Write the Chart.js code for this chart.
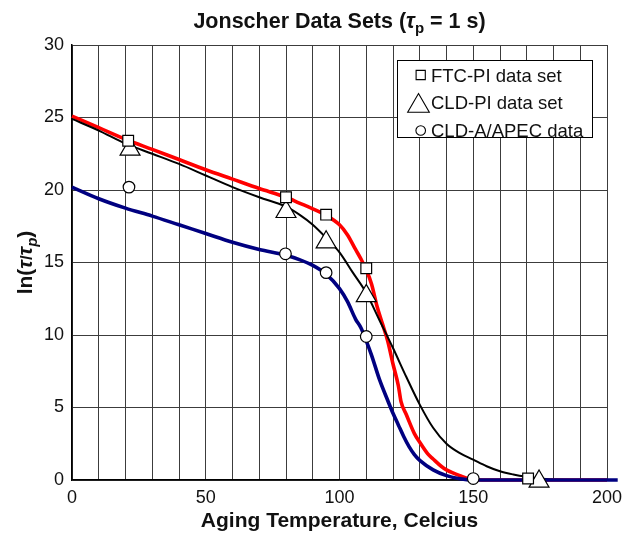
<!DOCTYPE html>
<html>
<head>
<meta charset="utf-8">
<script src="https://cdn.jsdelivr.net/npm/chart.js@4/dist/chart.umd.min.js"></script>
<style>
  body { margin: 0; background: #fff; }
  #wrap { width: 622px; height: 535px; }
</style>
</head>
<body>
<div id="wrap"><canvas id="grafica" width="622" height="535"></canvas></div>
<script>
// curves (temperature, ln(tau/tau_p))
const redT = [0, 10, 20, 30, 40, 50, 60, 70, 80, 85, 90, 95, 100, 103, 106, 108, 110, 112, 114, 116, 118, 120, 122, 123, 125, 128, 130, 133, 135, 138, 140, 145, 150, 155, 200];
const redV = [25.1, 24.3, 23.5, 22.8, 22.1, 21.4, 20.75, 20.1, 19.5, 19.1, 18.7, 18.25, 17.6, 16.9, 15.9, 15.25, 14.5, 13.5, 12.0, 10.8, 9.6, 8.0, 6.5, 5.4, 4.5, 3.2, 2.6, 1.8, 1.45, 0.95, 0.7, 0.3, 0.03, 0, 0];

const blackT = [0, 10, 20, 30, 40, 50, 60, 70, 80, 85, 90, 95, 100, 105, 110, 115, 120, 125, 130, 135, 140, 145, 150, 155, 160, 165, 170, 175, 180, 200];
const blackV = [24.9, 24.1, 23.2, 22.5, 21.8, 21.0, 20.2, 19.5, 18.85, 18.3, 17.6, 16.7, 15.7, 14.3, 12.9, 11.0, 9.1, 7.1, 5.2, 3.6, 2.5, 1.85, 1.4, 0.95, 0.6, 0.38, 0.22, 0.1, 0.02, 0];

const blueT = [0, 10, 20, 30, 40, 50, 60, 70, 80, 85, 90, 95, 100, 103, 106, 108, 110, 112, 115, 118, 120, 122, 124, 126, 128, 130, 135, 140, 145, 150, 204];
const blueV = [20.2, 19.4, 18.75, 18.2, 17.6, 17.0, 16.4, 15.9, 15.5, 15.2, 14.8, 14.2, 13.2, 12.3, 11.1, 10.5, 9.6, 8.6, 6.9, 5.5, 4.6, 3.8, 3.0, 2.3, 1.75, 1.35, 0.7, 0.3, 0.08, 0, 0];

// measured points
const sqT = [21, 80, 95, 110, 170.5];
const sqV = [23.4, 19.5, 18.3, 14.6, 0.1];
const triT = [21.7, 80, 95, 110, 174.6];
const triV = [22.8, 18.5, 16.4, 12.7, -0.1];
const circT = [21.3, 79.8, 95, 110, 150];
const circV = [20.2, 15.6, 14.3, 9.9, 0.1];

const legendLabels = ["FTC-PI data set", "CLD-PI data set", "CLD-A/APEC data"];

const FONT = "'Liberation Sans', Arial, sans-serif";

function puntos(xs, ys) {
    return xs.map((x, i) => ({ x: x, y: ys[i] }));
}

function curva(xs, ys, color, ancho, orden) {
    return {
        data: puntos(xs, ys),
        borderColor: color,
        borderWidth: ancho,
        pointRadius: 0,
        cubicInterpolationMode: 'monotone',
        fill: false,
        order: orden,
        clip: false
    };
}

function marcas(xs, ys, estilo, radio) {
    return {
        data: puntos(xs, ys),
        showLine: false,
        pointStyle: estilo,
        pointRadius: radio,
        pointBackgroundColor: '#fff',
        pointBorderColor: '#000',
        pointBorderWidth: 1.2,
        order: 0,
        clip: false
    };
}

// draws runs of text, each with its own font and vertical shift
function textoPartes(ctx, partes, x, y) {
    let ancho = 0;
    for (const p of partes) {
        ctx.font = p.font;
        ancho += ctx.measureText(p.t).width;
    }
    let cx = x - ancho / 2;
    for (const p of partes) {
        ctx.font = p.font;
        ctx.fillText(p.t, cx, y + (p.dy || 0));
        cx += ctx.measureText(p.t).width;
    }
}

const textos = {
    id: 'textos',
    afterDraw(chart) {
        const ctx = chart.ctx;
        const area = chart.chartArea;
        const cx = (area.left + area.right) / 2;
        ctx.save();
        ctx.fillStyle = '#111';
        ctx.textBaseline = 'alphabetic';
        ctx.textAlign = 'left';
        // title
        textoPartes(ctx, [
            { t: 'Jonscher Data Sets (', font: 'bold 21.5px ' + FONT },
            { t: 'τ', font: 'bold italic 21.5px ' + FONT },
            { t: 'p', font: 'bold 15px ' + FONT, dy: 5 },
            { t: ' = 1 s)', font: 'bold 21.5px ' + FONT }
        ], cx, 28);
        // x axis title
        textoPartes(ctx, [
            { t: 'Aging Temperature, Celcius', font: 'bold 21px ' + FONT }
        ], cx, 527);
        // y axis title
        ctx.translate(32, (area.top + area.bottom) / 2);
        ctx.rotate(-Math.PI / 2);
        textoPartes(ctx, [
            { t: 'ln(', font: 'bold 21px ' + FONT },
            { t: 'τ', font: 'bold italic 21px ' + FONT },
            { t: '/', font: 'bold 17px ' + FONT },
            { t: 'τ', font: 'bold italic 21px ' + FONT },
            { t: 'p', font: 'bold italic 15px ' + FONT, dy: 5 },
            { t: ')', font: 'bold 21px ' + FONT }
        ], 0, 0);
        ctx.restore();

        // legend
        ctx.save();
        ctx.fillStyle = '#fff';
        ctx.fillRect(397, 60, 195, 77);
        ctx.strokeStyle = '#000';
        ctx.lineWidth = 1;
        ctx.strokeRect(397.5, 60.5, 195, 77);
        const estilos = [['rect', 6.5, 420.7, 75], ['triangle', 12.5, 418.5, 106], ['circle', 4.8, 420.7, 130.5]];
        ctx.lineWidth = 1.1;
        for (const [estilo, r, x, y] of estilos) {
            ctx.fillStyle = '#fff';
            ctx.strokeStyle = '#000';
            Chart.helpers.drawPoint(ctx, { pointStyle: estilo, radius: r, rotation: 0, borderWidth: 1.1 }, x, y);
        }
        ctx.fillStyle = '#111';
        ctx.font = '18.5px ' + FONT;
        ctx.textAlign = 'left';
        legendLabels.forEach((lab, i) => {
            ctx.fillText(lab, 431, 81.5 + i * 27.7);
        });
        ctx.restore();
    }
};

const data = {
    datasets: [
        curva(redT, redV, '#ff0000', 3.6, 3),
        curva(blackT, blackV, '#000000', 2, 2),
        curva(blueT, blueV, '#000080', 3.6, 1),
        marcas(sqT, sqV, 'rect', 7.6),
        marcas(triT, triV, 'triangle', 11.5),
        marcas(circT, circV, 'circle', 5.8)
    ]
};

const config = {
    type: 'line',
    data: data,
    plugins: [textos],
    options: {
        responsive: false,
        animation: false,
        layout: { padding: { top: 45, right: 15, bottom: 0, left: 0 } },
        plugins: {
            legend: { display: false },
            tooltip: { enabled: false }
        },
        scales: {
            x: {
                type: 'linear',
                min: 0,
                max: 200,
                afterFit(scale) {
                    scale.height = 55;
                    scale.paddingLeft = 0;
                    scale.paddingRight = 0;
                },
                ticks: {
                    stepSize: 10,
                    autoSkip: false,
                    maxRotation: 0,
                    padding: 7,
                    color: '#111',
                    font: { family: FONT, size: 18 },
                    callback: (v) => (v % 50 === 0 ? v : '')
                },
                grid: { color: '#3c3c3c', lineWidth: 1, drawTicks: false },
                border: { color: '#000', width: 1.5 }
            },
            y: {
                min: 0,
                max: 30,
                afterFit(scale) {
                    scale.width = 72;
                    scale.paddingTop = 0;
                    scale.paddingBottom = 0;
                },
                ticks: {
                    stepSize: 5,
                    padding: 8,
                    color: '#111',
                    font: { family: FONT, size: 18 }
                },
                grid: { color: '#3c3c3c', lineWidth: 1, drawTicks: false },
                border: { color: '#000', width: 1.5 }
            }
        }
    }
};

ChartPrincipal = new Chart(document.getElementById('grafica'), config);
</script>
</body>
</html>
